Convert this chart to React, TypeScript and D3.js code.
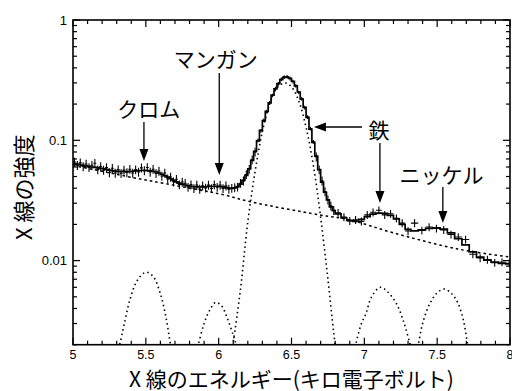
import React from 'react';
import * as d3 from 'd3';

const W = 512;
const H = 391;
const margin = { left: 73, right: 2, top: 20, bottom: 46.3 };

const xDomain: [number, number] = [5, 8];
const yDomain: [number, number] = [0.002, 1];
const xMajorTicks = [5, 5.5, 6, 6.5, 7, 7.5, 8];
const xTickLabels = ['5', '5.5', '6', '6.5', '7', '7.5', '8'];
const yMajorTicks = [0.01, 0.1, 1];
const yTickLabels = ['0.01', '0.1', '1'];

// fine bins 5.00 - 6.80 keV (0.02 keV wide)
const denseStart = 5.0;
const denseStep = 0.02;
const denseModel = [
  0.0640, 0.0635, 0.0628, 0.0620, 0.0613, 0.0607, 0.0600, 0.0595, 0.0590, 0.0585,
  0.0580, 0.0573, 0.0566, 0.0560, 0.0555, 0.0552, 0.0550, 0.0550, 0.0550, 0.0551,
  0.0553, 0.0556, 0.0559, 0.0561, 0.0562, 0.0561, 0.0558, 0.0553, 0.0545, 0.0535,
  0.0522, 0.0508, 0.0494, 0.0479, 0.0465, 0.0452, 0.0441, 0.0432, 0.0425, 0.0419,
  0.0414, 0.0411, 0.0410, 0.0409, 0.0410, 0.0411, 0.0413, 0.0414, 0.0415, 0.0415,
  0.0413, 0.0410, 0.0405, 0.0401, 0.0399, 0.0402, 0.0412, 0.0432, 0.0465, 0.0512,
  0.058, 0.068, 0.081, 0.099, 0.121, 0.146, 0.174, 0.205, 0.237, 0.268,
  0.296, 0.319, 0.333, 0.336, 0.327, 0.309, 0.283, 0.252, 0.220, 0.188,
  0.155, 0.124, 0.096, 0.074, 0.057, 0.045, 0.037, 0.032, 0.028, 0.026,
];
const denseData = [
  0.0660, 0.0620, 0.0650, 0.0605, 0.0635, 0.0595, 0.0620, 0.0645, 0.0570, 0.0605,
  0.0565, 0.0595, 0.0540, 0.0585, 0.0535, 0.0570, 0.0530, 0.0565, 0.0540, 0.0575,
  0.0535, 0.0570, 0.0545, 0.0590, 0.0560, 0.0595, 0.0545, 0.0575, 0.0530, 0.0555,
  0.0505, 0.0535, 0.0478, 0.0495, 0.0452, 0.0475, 0.0428, 0.0450, 0.0440, 0.0408,
  0.0428, 0.0398, 0.0424, 0.0393, 0.0418, 0.0402, 0.0424, 0.0398, 0.0428, 0.0408,
  0.0424, 0.0398, 0.0418, 0.0393, 0.0400, 0.0405, 0.0410, 0.0440, 0.0460, 0.0520,
  0.0575, 0.0690, 0.0800, 0.1000, 0.1200, 0.1470, 0.1730, 0.2050, 0.2360, 0.2690,
  0.2950, 0.3210, 0.3350, 0.3380, 0.3260, 0.3080, 0.2840, 0.2500, 0.2210, 0.1870,
  0.1560, 0.1250, 0.0970, 0.0730, 0.0570, 0.0460, 0.0375, 0.0320, 0.0285, 0.0262,
];

// coarse bins 6.80 - 8.02 keV
const tailEdges = [
  6.80, 6.84, 6.88, 6.92, 6.96, 7.00, 7.04, 7.08, 7.12, 7.16, 7.20, 7.24, 7.28, 7.32,
  7.37, 7.42, 7.47, 7.52, 7.57, 7.62, 7.67, 7.72, 7.77, 7.82, 7.87, 7.92, 7.97, 8.02,
];
const tailModel = [
  0.0245, 0.0226, 0.0216, 0.0212, 0.0220, 0.0232, 0.0243, 0.0248, 0.0247, 0.0238,
  0.0222, 0.0200, 0.0182, 0.0177, 0.0180, 0.0185, 0.0187, 0.0183, 0.0170, 0.0152,
  0.0135, 0.0118, 0.0107, 0.0101, 0.0097, 0.0095, 0.0094,
];
const tailData = [
  0.0250, 0.0230, 0.0214, 0.0218, 0.0212, 0.0240, 0.0252, 0.0262, 0.0240, 0.0245,
  0.0225, 0.0205, 0.0176, 0.0205, 0.0178, 0.0190, 0.0185, 0.0180, 0.0165, 0.0157,
  0.0150, 0.0113, 0.0105, 0.0102, 0.0096, 0.0097, 0.0095,
];
const lowErr = 0.085;
const peakErr = 0.035;
const tailErr = 0.075;

// continuum (dashed)
const continuum: [number, number][] = [
  [5.0, 0.062], [5.41, 0.049], [5.55, 0.0455], [5.87, 0.0386], [6.04, 0.0351],
  [6.21, 0.031], [6.69, 0.024], [6.9, 0.0218], [7.2, 0.017], [7.64, 0.0125], [8.0, 0.0107],
];
// line components (dotted)
const lineCr: [number, number][] = [
  [5.30, 0.0017], [5.32, 0.0020], [5.35, 0.0029], [5.39, 0.0047], [5.44, 0.0068], [5.50, 0.0080],
  [5.55, 0.0074], [5.60, 0.0053], [5.64, 0.0033], [5.67, 0.0020], [5.69, 0.0016],
];
const lineMn: [number, number][] = [
  [5.84, 0.0016], [5.86, 0.0020], [5.90, 0.0030], [5.94, 0.0039], [5.98, 0.0045], [6.02, 0.0042],
  [6.06, 0.0033], [6.10, 0.0024], [6.12, 0.0020], [6.14, 0.0016],
];
const lineFe: [number, number][] = [
  [6.08, 0.0015], [6.10, 0.0021], [6.15, 0.0058], [6.20, 0.0210], [6.25, 0.055], [6.30, 0.118],
  [6.35, 0.200], [6.40, 0.272], [6.455, 0.300], [6.50, 0.278], [6.55, 0.212], [6.60, 0.128],
  [6.65, 0.062], [6.70, 0.023], [6.75, 0.0070], [6.79, 0.0025], [6.81, 0.0016],
];
const lineFeB: [number, number][] = [
  [6.92, 0.0016], [6.94, 0.0020], [6.98, 0.0030], [7.01, 0.0036], [7.05, 0.0050], [7.11, 0.0060],
  [7.16, 0.0055], [7.22, 0.0044], [7.27, 0.0031], [7.31, 0.0021], [7.33, 0.0017],
];
const lineNi: [number, number][] = [
  [7.35, 0.0016], [7.37, 0.0020], [7.40, 0.0030], [7.45, 0.0044], [7.50, 0.0054], [7.55, 0.0058],
  [7.60, 0.0053], [7.64, 0.0045], [7.68, 0.0032], [7.71, 0.0020], [7.73, 0.0016],
];

const annotations = [
  { text: 'クロム', x: 5.52, y: 0.184 },
  { text: 'マンガン', x: 5.98, y: 0.479 },
  { text: '鉄', x: 7.1, y: 0.124 },
  { text: 'ニッケル', x: 7.53, y: 0.0525 },
];
const arrows = [
  { x1: 5.487, y1: 0.142, x2: 5.487, y2: 0.0673 },
  { x1: 6.004, y1: 0.3625, x2: 6.004, y2: 0.0515 },
  { x1: 6.984, y1: 0.129, x2: 6.654, y2: 0.129 },
  { x1: 7.107, y1: 0.095, x2: 7.107, y2: 0.0301 },
  { x1: 7.539, y1: 0.0409, x2: 7.539, y2: 0.0205 },
];

const xTitle = 'X 線のエネルギー(キロ電子ボルト)';
const yTitle = 'X 線の強度';

const JP = '"Noto Sans CJK JP", "Noto Sans CJK SC", sans-serif';
const LAT = '"Liberation Sans", Arial, sans-serif';

export default function App() {
  const x0 = margin.left;
  const x1 = W - margin.right;
  const yTop = margin.top;
  const yBot = H - margin.bottom;
  const x = d3.scaleLinear().domain(xDomain).range([x0, x1]);
  const y = d3.scaleLog().domain(yDomain).range([yBot, yTop]);

  type Bin = { a: number; b: number; m: number; d: number; e: number };
  const bins: Bin[] = [];
  denseModel.forEach((m, i) => {
    const a = denseStart + i * denseStep;
    const d = denseData[i];
    bins.push({ a, b: a + denseStep, m, d, e: d > 0.08 ? peakErr : lowErr });
  });
  tailModel.forEach((m, i) => {
    bins.push({ a: tailEdges[i], b: tailEdges[i + 1], m, d: tailData[i], e: tailErr });
  });

  const stepPts: [number, number][] = bins.map((b) => [b.a, b.m]);
  stepPts.push([bins[bins.length - 1].b, bins[bins.length - 1].m]);
  const stepLine = d3
    .line<[number, number]>()
    .x((p) => x(p[0]))
    .y((p) => y(p[1]))
    .curve(d3.curveStepAfter);

  const smooth = d3
    .line<[number, number]>()
    .x((p) => x(p[0]))
    .y((p) => y(p[1]))
    .curve(d3.curveCatmullRom.alpha(0.5));

  const xMinor = d3.range(50, 81).map((v) => v / 10);
  const yMinor = y.ticks();
  const isMajorX = (v: number) => xMajorTicks.some((t) => Math.abs(t - v) < 1e-6);
  const isMajorY = (v: number) => yMajorTicks.some((t) => Math.abs(t - v) / t < 1e-6);

  const arrowEls = arrows.map((a, i) => {
    const px1 = x(a.x1), py1 = y(a.y1), px2 = x(a.x2), py2 = y(a.y2);
    const dx = px2 - px1, dy = py2 - py1;
    const L = Math.hypot(dx, dy);
    const ux = dx / L, uy = dy / L;
    const hl = 12, hw = 4.5;
    const bx = px2 - ux * hl, by = py2 - uy * hl;
    const p = `M${px2},${py2}L${bx - uy * hw},${by + ux * hw}L${bx + uy * hw},${by - ux * hw}Z`;
    return (
      <g key={i}>
        <line x1={px1} y1={py1} x2={bx} y2={by} stroke="#000" strokeWidth={1.3} />
        <path d={p} fill="#000" />
      </g>
    );
  });

  return (
    <svg
      width={W}
      height={H}
      style={{ position: 'absolute', left: 0, top: 0, background: '#fff' }}
    >
      <defs>
        <clipPath id="plot">
          <rect x={x0} y={yTop} width={x1 - x0} height={yBot - yTop} />
        </clipPath>
      </defs>
      <rect x={0} y={0} width={W} height={H} fill="#fff" />

      <g clipPath="url(#plot)">
        <path
          d={smooth(continuum) || ''}
          fill="none"
          stroke="#000"
          strokeWidth={1.5}
          strokeDasharray="2.6 3"
        />
        {[lineCr, lineMn, lineFe, lineFeB, lineNi].map((ln, i) => (
          <path
            key={i}
            d={smooth(ln) || ''}
            fill="none"
            stroke="#000"
            strokeWidth={1.6}
            strokeDasharray="1.5 3.2"
          />
        ))}
        <path d={stepLine(stepPts) || ''} fill="none" stroke="#000" strokeWidth={1.7} />
        {bins.map((b, i) => {
          const cx = x((b.a + b.b) / 2);
          return (
            <g key={i} stroke="#000" strokeWidth={1.1}>
              <line x1={x(b.a)} x2={x(b.b)} y1={y(b.d)} y2={y(b.d)} />
              <line x1={cx} x2={cx} y1={y(b.d * (1 - b.e))} y2={y(b.d * (1 + b.e))} />
            </g>
          );
        })}
      </g>

      {/* ticks */}
      <g stroke="#000" strokeWidth={1.2}>
        {xMinor.map((v, i) => {
          const len = isMajorX(v) ? 7 : 4;
          return (
            <g key={i}>
              <line x1={x(v)} x2={x(v)} y1={yBot} y2={yBot - len} />
              <line x1={x(v)} x2={x(v)} y1={yTop} y2={yTop + len} />
            </g>
          );
        })}
        {yMinor.map((v, i) => {
          const len = isMajorY(v) ? 7 : 4;
          return (
            <g key={i}>
              <line x1={x0} x2={x0 + len} y1={y(v)} y2={y(v)} />
              <line x1={x1} x2={x1 - len} y1={y(v)} y2={y(v)} />
            </g>
          );
        })}
      </g>
      <rect
        x={x0}
        y={yTop}
        width={x1 - x0}
        height={yBot - yTop}
        fill="none"
        stroke="#000"
        strokeWidth={1.6}
      />

      {/* tick labels */}
      {xMajorTicks.map((v, i) => (
        <text
          key={i}
          x={x(v)}
          y={yBot + 13.8}
          textAnchor="middle"
          fontFamily={LAT}
          fontSize={12.5}
          fill="#000"
        >
          {xTickLabels[i]}
        </text>
      ))}
      {yMajorTicks.map((v, i) => (
        <text
          key={i}
          x={x0 - 6}
          y={y(v)}
          dy="0.35em"
          textAnchor="end"
          fontFamily={LAT}
          fontSize={13}
          fill="#000"
        >
          {yTickLabels[i]}
        </text>
      ))}

      {/* axis titles */}
      <text
        x={(x0 + x1) / 2}
        y={H - 4.5}
        textAnchor="middle"
        fontFamily={JP}
        fontSize={21}
        fill="#000"
      >
        {xTitle}
      </text>
      <text
        transform={`translate(22,${(yTop + yBot) / 2 + 5}) rotate(-90)`}
        textAnchor="middle"
        dominantBaseline="central"
        fontFamily={JP}
        fontSize={22}
        fill="#000"
      >
        {yTitle}
      </text>

      {/* annotations */}
      {annotations.map((a, i) => (
        <text
          key={i}
          x={x(a.x)}
          y={y(a.y)}
          textAnchor="middle"
          dominantBaseline="central"
          fontFamily={JP}
          fontSize={21}
          fill="#000"
        >
          {a.text}
        </text>
      ))}
      {arrowEls}
    </svg>
  );
}
